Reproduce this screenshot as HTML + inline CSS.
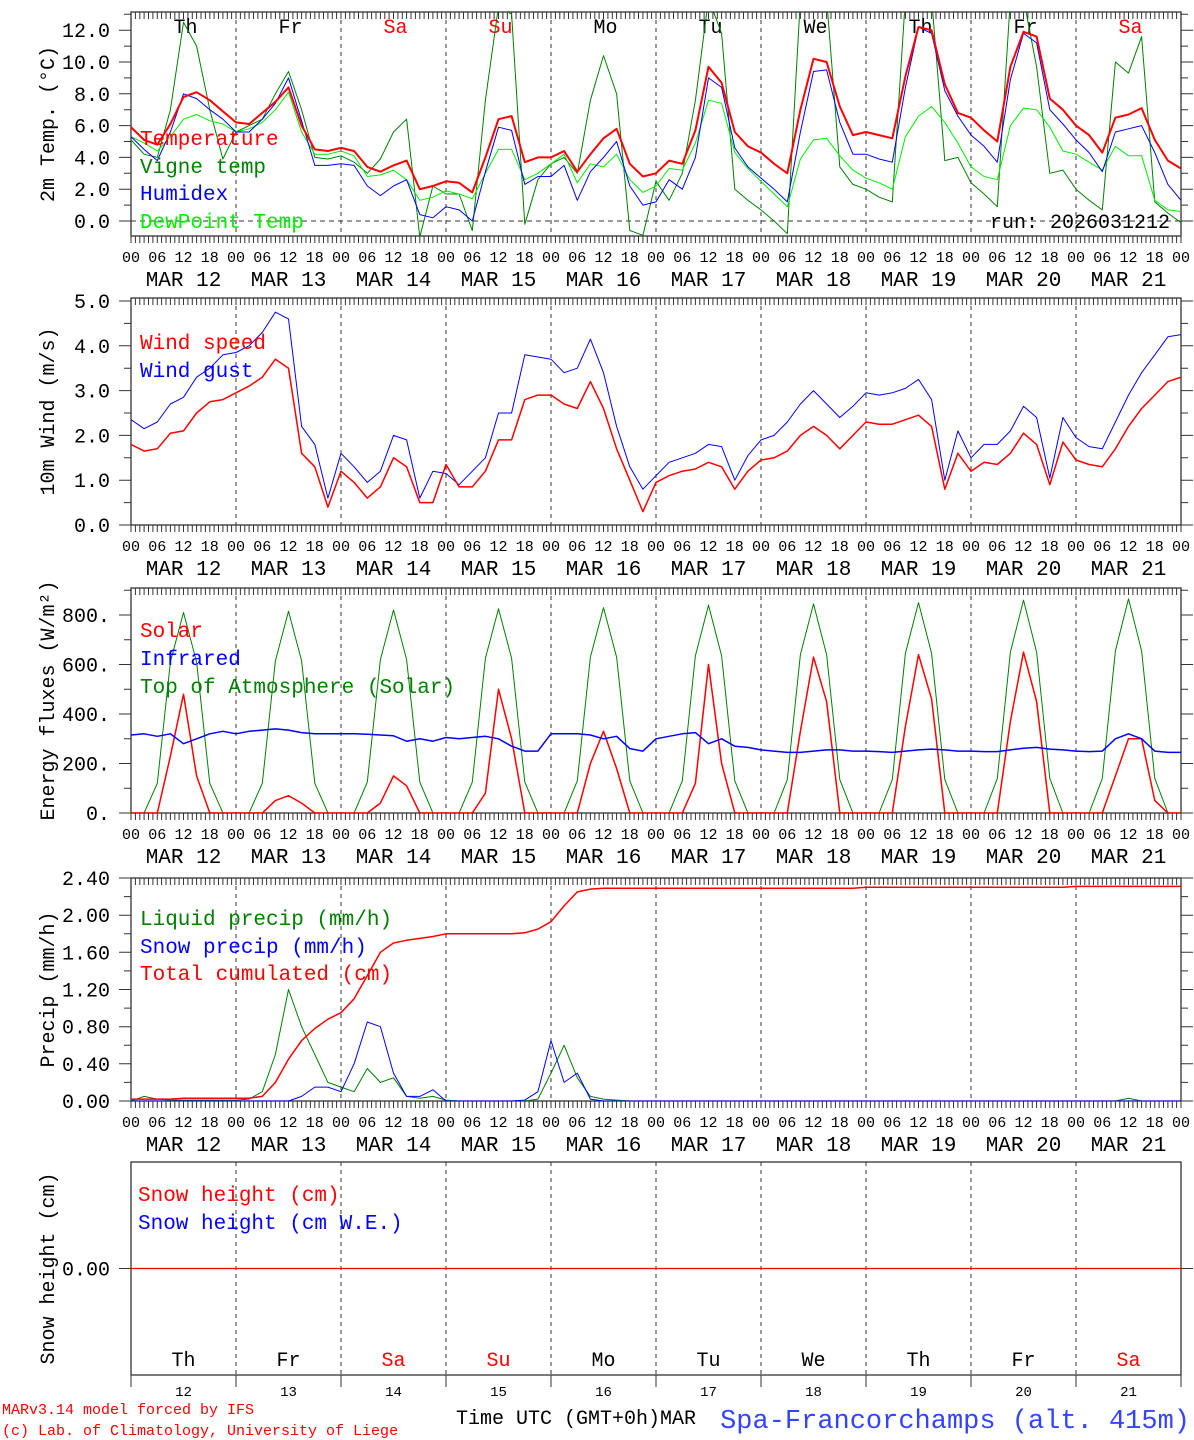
<!DOCTYPE html>
<html><head><meta charset="utf-8">
<style>
html,body{margin:0;padding:0;background:#fff;}
svg{display:block;font-family:"Liberation Mono","DejaVu Sans Mono",monospace;}
</style></head>
<body>
<svg id="chart" width="1194" height="1440" viewBox="0 0 1194 1440" xmlns="http://www.w3.org/2000/svg"></svg>
<script>
// ---- data (3-hourly, 00 UTC Mar 12 to 00 UTC Mar 22) ----
const dayNames = ["Th","Fr","Sa","Su","Mo","Tu","We","Th","Fr","Sa"];
const dayNums = ["12","13","14","15","16","17","18","19","20","21"];
const hourLabels = ["00","06","12","18"];
const temp = [5.9,5.1,4.8,6.1,7.8,8.1,7.6,6.9, 6.2,6.1,6.8,7.5,8.4,6.0,4.5,4.4, 4.6,4.4,3.4,3.1,3.5,3.8,2.0,2.2, 2.5,2.4,1.8,4.0,6.4,6.6,3.7,4.0, 4.0,4.4,3.1,4.2,5.2,5.8,3.6,2.8, 3.0,3.8,3.6,5.7,9.7,8.7,5.6,4.7, 4.3,3.6,3.0,7.0,10.2,10.0,7.2,5.4, 5.6,5.4,5.2,9.1,12.2,12.0,8.6,6.8, 6.5,5.7,5.0,9.7,11.9,11.6,7.7,7.0, 6.0,5.4,4.3,6.5,6.7,7.1,5.1,3.8, 3.3];
const humidex = [5.3,4.5,3.8,5.6,8.0,7.7,7.0,6.4, 5.6,5.6,6.4,7.4,9.0,6.3,3.5,3.5, 3.6,3.5,2.2,1.6,2.2,2.6,0.4,0.2, 0.9,0.7,0.0,3.1,5.9,5.7,2.3,2.8, 2.8,3.5,1.3,3.1,4.0,5.0,2.2,1.0, 1.2,2.6,2.0,4.0,9.0,8.4,4.6,3.4, 2.7,2.0,1.2,5.6,9.4,9.5,6.2,4.2, 4.2,3.9,3.7,8.4,12.2,11.8,8.2,6.6, 5.4,4.7,3.7,8.9,11.8,11.2,7.0,6.1, 5.1,4.3,3.1,5.6,5.8,6.0,4.3,2.3, 1.3];
const dewpt = [5.3,4.9,4.4,5.3,6.4,6.7,6.3,6.1, 5.6,5.8,6.2,7.0,8.1,5.6,4.2,4.2, 4.4,4.1,2.8,2.9,3.2,2.6,1.3,1.5, 1.9,1.7,1.4,3.0,4.5,4.5,2.6,3.0, 3.6,4.2,2.4,3.6,3.4,4.2,2.6,1.8, 2.2,3.3,3.2,4.9,7.6,7.4,4.3,3.3, 2.5,1.7,0.9,3.9,5.1,5.2,4.1,3.2, 2.7,2.4,2.0,5.3,6.6,7.2,6.2,4.9, 3.4,2.8,2.6,6.0,7.1,7.0,5.9,4.4, 4.2,3.7,3.2,4.7,4.1,4.1,1.3,0.7, 0.6];
const vigne = [5.1,4.2,4.0,7.0,12.5,11.0,7.0,3.9, 5.6,6.0,6.4,8.0,9.4,7.0,4.0,3.9, 4.1,3.7,3.0,3.9,5.6,6.4,-1.0,2.2, 1.7,1.7,-0.6,7.6,13.5,13.0,-0.2,2.6, 3.6,4.0,3.0,7.6,10.4,8.0,-0.6,-0.9, 2.5,1.3,3.0,7.6,14,11.8,2.0,1.3, 0.7,0.0,-0.8,14,14,14,3.4,2.3, 2.0,1.5,1.2,14,14,14,3.8,4.0, 2.4,1.7,0.9,14,14,9.7,3.0,3.2, 2.0,1.3,0.7,10.0,9.3,11.6,1.2,0.5, -0.1];
const windSpeed = [1.8,1.65,1.7,2.05,2.1,2.5,2.75,2.8, 2.95,3.1,3.3,3.7,3.5,1.6,1.3,0.4, 1.2,0.95,0.6,0.85,1.5,1.3,0.5,0.5, 1.35,0.85,0.85,1.2,1.9,1.9,2.8,2.9, 2.9,2.7,2.6,3.2,2.6,1.7,1.0,0.3, 0.95,1.1,1.2,1.25,1.4,1.3,0.8,1.2, 1.45,1.5,1.65,2.0,2.2,2.0,1.7,2.0, 2.3,2.25,2.25,2.35,2.45,2.2,0.8,1.6, 1.2,1.4,1.35,1.6,2.05,1.8,0.9,1.85, 1.45,1.35,1.3,1.7,2.2,2.6,2.9,3.2, 3.3];
const windGust = [2.35,2.15,2.3,2.7,2.85,3.3,3.5,3.8, 3.85,4.0,4.3,4.75,4.6,2.2,1.8,0.6, 1.6,1.3,0.95,1.2,2.0,1.9,0.6,1.2, 1.15,0.9,1.2,1.5,2.5,2.5,3.8,3.75, 3.7,3.4,3.5,4.15,3.4,2.2,1.3,0.8, 1.1,1.4,1.5,1.6,1.8,1.75,1.0,1.55, 1.9,2.0,2.3,2.7,3.0,2.7,2.4,2.65, 2.95,2.9,2.95,3.05,3.25,2.8,1.0,2.1, 1.5,1.8,1.8,2.1,2.65,2.4,1.05,2.4, 1.95,1.75,1.7,2.3,2.9,3.4,3.8,4.2, 4.25];
const solar = [0,0,0,230,480,150,0,0, 0,0,0,50,70,40,0,0, 0,0,0,40,150,110,0,0, 0,0,0,80,500,300,0,0, 0,0,0,200,330,180,0,0, 0,0,0,120,600,200,0,0, 0,0,0,330,630,450,0,0, 0,0,0,350,640,460,0,0, 0,0,0,370,650,450,0,0, 0,0,0,150,300,300,50,0, 0];
const infrared = [315,320,310,320,280,300,320,330, 320,330,335,340,335,325,320,320, 320,320,318,315,312,290,300,290, 305,300,305,310,300,270,250,250, 320,320,320,315,300,310,260,250, 300,310,320,325,280,300,270,265, 255,250,245,245,250,255,255,250, 250,248,245,250,255,258,255,250, 250,248,248,255,262,265,258,255, 250,248,250,300,320,300,250,245, 245];
const toa = [0,0,120,610,810,610,120,0, 0,0,120,615,815,615,120,0, 0,0,125,620,820,620,125,0, 0,0,125,625,825,625,125,0, 0,0,130,630,830,630,130,0, 0,0,130,635,840,635,130,0, 0,0,135,640,845,640,135,0, 0,0,135,645,850,645,135,0, 0,0,140,650,860,650,140,0, 0,0,140,655,865,655,140,0, 0];
const liquid = [0,0.05,0.02,0.01,0.01,0.01,0.01,0.01, 0.01,0.02,0.1,0.5,1.2,0.8,0.5,0.2, 0.15,0.1,0.35,0.2,0.25,0.05,0.03,0.05, 0.01,0,0,0,0,0,0,0.02, 0.3,0.6,0.25,0.05,0.02,0.01,0,0, 0,0,0,0,0,0,0,0, 0,0,0,0,0,0,0,0, 0,0,0,0,0,0,0,0, 0,0,0,0,0,0,0,0, 0,0,0,0,0.03,0,0,0, 0];
const snowPrecip = [0,0,0,0,0,0,0,0, 0,0,0,0,0,0.05,0.15,0.15, 0.1,0.4,0.85,0.8,0.3,0.05,0.05,0.12, 0,0,0,0,0,0,0.01,0.1, 0.65,0.2,0.3,0.02,0,0,0,0, 0,0,0,0,0,0,0,0, 0,0,0,0,0,0,0,0, 0,0,0,0,0,0,0,0, 0,0,0,0,0,0,0,0, 0,0,0,0,0,0,0,0, 0];
const totalCum = [0.02,0.02,0.02,0.02,0.03,0.03,0.03,0.03, 0.03,0.03,0.05,0.2,0.45,0.65,0.78,0.88, 0.95,1.1,1.35,1.6,1.7,1.73,1.75,1.77, 1.8,1.8,1.8,1.8,1.8,1.8,1.81,1.85, 1.93,2.1,2.25,2.28,2.29,2.29,2.29,2.29, 2.29,2.29,2.29,2.29,2.29,2.29,2.29,2.29, 2.29,2.29,2.29,2.29,2.29,2.29,2.29,2.29, 2.3,2.3,2.3,2.3,2.3,2.3,2.3,2.3, 2.3,2.3,2.3,2.3,2.3,2.3,2.3,2.3, 2.31,2.31,2.31,2.31,2.31,2.31,2.31,2.31, 2.31];
const snowHeight = [0,0,0,0,0,0,0,0,0,0,0];
const stepHours = 3;

// ---- drawing ----
const NS = "http://www.w3.org/2000/svg";
const svg = document.getElementById("chart");
const X0 = 131, X1 = 1181, HOURS = 240;
function xH(h){ return X0 + h*(X1-X0)/HOURS; }
function mk(tag, attrs, parent){
  const e = document.createElementNS(NS, tag);
  for (const k in attrs) e.setAttribute(k, attrs[k]);
  (parent||svg).appendChild(e);
  return e;
}
function txt(s, x, y, size, color, anchor, parent){
  const t = mk("text", {x:x, y:y, "font-size":size, fill:color||"#000", "text-anchor":anchor||"start"}, parent);
  t.textContent = s;
  return t;
}
function panel(name, top, bottom, vmin, vmax, ticks, tickFmt, minorStep, ytitle, showHours){
  const g = mk("g", {});
  
  
  const yv = v => bottom - (v - vmin)*(bottom-top)/(vmax-vmin);
  const clipId = name + "-clip";
  const cp = mk("clipPath", {id:clipId}, g);
  mk("rect", {x:X0, y:top, width:X1-X0, height:bottom-top}, cp);
  for (let d=1; d<10; d++){
    const l = mk("line", {x1:xH(d*24), x2:xH(d*24), y1:top, y2:bottom, stroke:"#333", "stroke-width":1, "stroke-dasharray":"4,4"}, g);
    
    
  }
  const fr = mk("rect", {x:X0, y:top, width:X1-X0, height:bottom-top, fill:"none", stroke:"#333", "stroke-width":1.3}, g);
  
  
  let tp = "";
  for (let h=0; h<=HOURS; h++){
    const x = xH(h).toFixed(1);
    if (showHours !== false){
      tp += `M${x},${top}v7M${x},${bottom}v7`;
    } else {
      if (h%24===0) tp += `M${x},${bottom}v12`;
    }
  }
  const tk = mk("path", {d:tp, stroke:"#333", "stroke-width":1, fill:"none"}, g);
  
  
  let yp = "";
  if (minorStep){
    for (let v = Math.ceil(vmin/minorStep)*minorStep; v <= vmax+1e-9; v += minorStep){
      const y = yv(v).toFixed(1);
      yp += `M${X0-7},${y}h7M${X1},${y}h7`;
    }
  }
  ticks.forEach(v => { const y = yv(v).toFixed(1); yp += `M${X0-12},${y}h12M${X1},${y}h12`; });
  const ytk = mk("path", {d:yp, stroke:"#333", "stroke-width":1, fill:"none"}, g);
  
  
  ticks.forEach(v => {
    const t = txt(tickFmt(v), 110, yv(v)+7, 20, "#000", "end", g);
    
    
  });
  const cy = (top+bottom)/2;
  const yt = mk("text", {x:0, y:0, "font-size":20, fill:"#000", "text-anchor":"middle", transform:`translate(54,${cy}) rotate(-90)`}, g);
  yt.textContent = ytitle;
  
  
  if (showHours !== false){
    for (let h=0; h<=HOURS; h+=6){
      const t = txt(hourLabels[(h/6)%4], xH(h), bottom+26, 15, "#000", "middle", g);
      
      
    }
    for (let d=0; d<10; d++){
      const t = txt("MAR " + dayNums[d], xH(d*24+12), bottom+50, 21, "#000", "middle", g);
      
      
    }
  }
  return {g, yv, clipId};
}
function series(p, arr, color, width, name){
  let d = "";
  arr.forEach((v,i) => { d += (i?"L":"M") + xH(i*stepHours).toFixed(1) + "," + p.yv(v).toFixed(1); });
  const pa = mk("path", {d:d, fill:"none", stroke:color, "stroke-width":width, "stroke-linejoin":"round", "clip-path":`url(#${p.clipId})`}, p.g);
  
  
}
function legend(p, s, x, y, color){
  const t = txt(s, x, y, 21, color, "start", p.g);
  
  
}

const p1 = panel("temperature", 12, 236, (221-236)/15.9, (221-12)/15.9, [0,2,4,6,8,10,12], v=>v.toFixed(1), 1, "2m Temp. (\u00B0C)");
const zl = mk("line", {x1:X0, x2:X1, y1:p1.yv(0), y2:p1.yv(0), stroke:"#333", "stroke-dasharray":"5,4"}, p1.g);


dayNames.forEach((n,d) => {
  const t = txt(n, xH(d*24+12)+2, 33, 20, (n==="Sa"||n==="Su")?"#f00":"#000", "middle", p1.g);
  
  
});
series(p1, vigne, "#008000", 1, "vigne-temp-line");
series(p1, dewpt, "#00ee00", 1, "dewpoint-line");
series(p1, humidex, "#0000ff", 1, "humidex-line");
series(p1, temp, "#ff0000", 2, "temperature-line");
legend(p1, "Temperature", 140, 145, "#f00");
legend(p1, "Vigne temp", 140, 173, "#008000");
legend(p1, "Humidex", 140, 200, "#00f");
legend(p1, "DewPoint Temp", 140, 228, "#00ee00");
const run = txt("run: 2026031212", 1170, 228, 20, "#000", "end", p1.g);



const p2 = panel("wind", 298, 525, 0, (525-298)/44.8, [0,1,2,3,4,5], v=>v.toFixed(1), 0.5, "10m Wind (m/s)");
series(p2, windGust, "#0000ff", 1, "wind-gust-line");
series(p2, windSpeed, "#ff0000", 1.5, "wind-speed-line");
legend(p2, "Wind speed", 140, 349, "#f00");
legend(p2, "Wind gust", 140, 377, "#00f");

const p3 = panel("energy", 588, 813, 0, (813-588)/0.2475, [0,200,400,600,800], v=>v.toFixed(0)+".", 100, "Energy fluxes (W/m\u00B2)");
series(p3, toa, "#008000", 1, "toa-solar-line");
series(p3, solar, "#ff0000", 1.5, "solar-line");
series(p3, infrared, "#0000ff", 1.5, "infrared-line");
legend(p3, "Solar", 140, 637, "#f00");
legend(p3, "Infrared", 140, 665, "#00f");
legend(p3, "Top of Atmosphere (Solar)", 140, 693, "#008000");

const p4 = panel("precip", 878, 1101, 0, 2.4, [0,0.4,0.8,1.2,1.6,2.0,2.4], v=>v.toFixed(2), 0.2, "Precip (mm/h)");
series(p4, liquid, "#008000", 1, "liquid-precip-line");
series(p4, snowPrecip, "#0000ff", 1, "snow-precip-line");
series(p4, totalCum, "#ff0000", 1.5, "total-cumulated-line");
legend(p4, "Liquid precip (mm/h)", 140, 925, "#008000");
legend(p4, "Snow precip (mm/h)", 140, 953, "#00f");
legend(p4, "Total cumulated (cm)", 140, 980, "#f00");

const p5 = panel("snow-height", 1162, 1375, -1, 1, [0], v=>v.toFixed(2), 0, "Snow height (cm)", false);
{
  let d = "";
  snowHeight.forEach((v,i) => { d += (i?"L":"M") + xH(i*24).toFixed(1) + "," + p5.yv(v).toFixed(1); });
  const pa = mk("path", {d:d, fill:"none", stroke:"#f00", "stroke-width":1.3}, p5.g);
  
  
}
legend(p5, "Snow height (cm)", 138, 1201, "#f00");
legend(p5, "Snow height (cm W.E.)", 138, 1229, "#00f");
dayNames.forEach((n,d) => {
  const t = txt(n, xH(d*24+12), 1366, 20, (n==="Sa"||n==="Su")?"#f00":"#000", "middle", p5.g);
  
  
  const t2 = txt(dayNums[d], xH(d*24+12), 1396, 14, "#000", "middle", p5.g);
  
  
});

const f1 = txt("MARv3.14 model forced by IFS", 2, 1414, 15, "#f00", "start");


const f2 = txt("(c) Lab. of Climatology, University of Liege", 2, 1435, 15, "#f00", "start");


const f3 = txt("Time UTC (GMT+0h)MAR", 456, 1424, 20, "#000", "start");


const f4 = txt("Spa-Francorchamps (alt. 415m)", 1190, 1428, 27, "#3344ff", "end");


</script>
</body></html>
